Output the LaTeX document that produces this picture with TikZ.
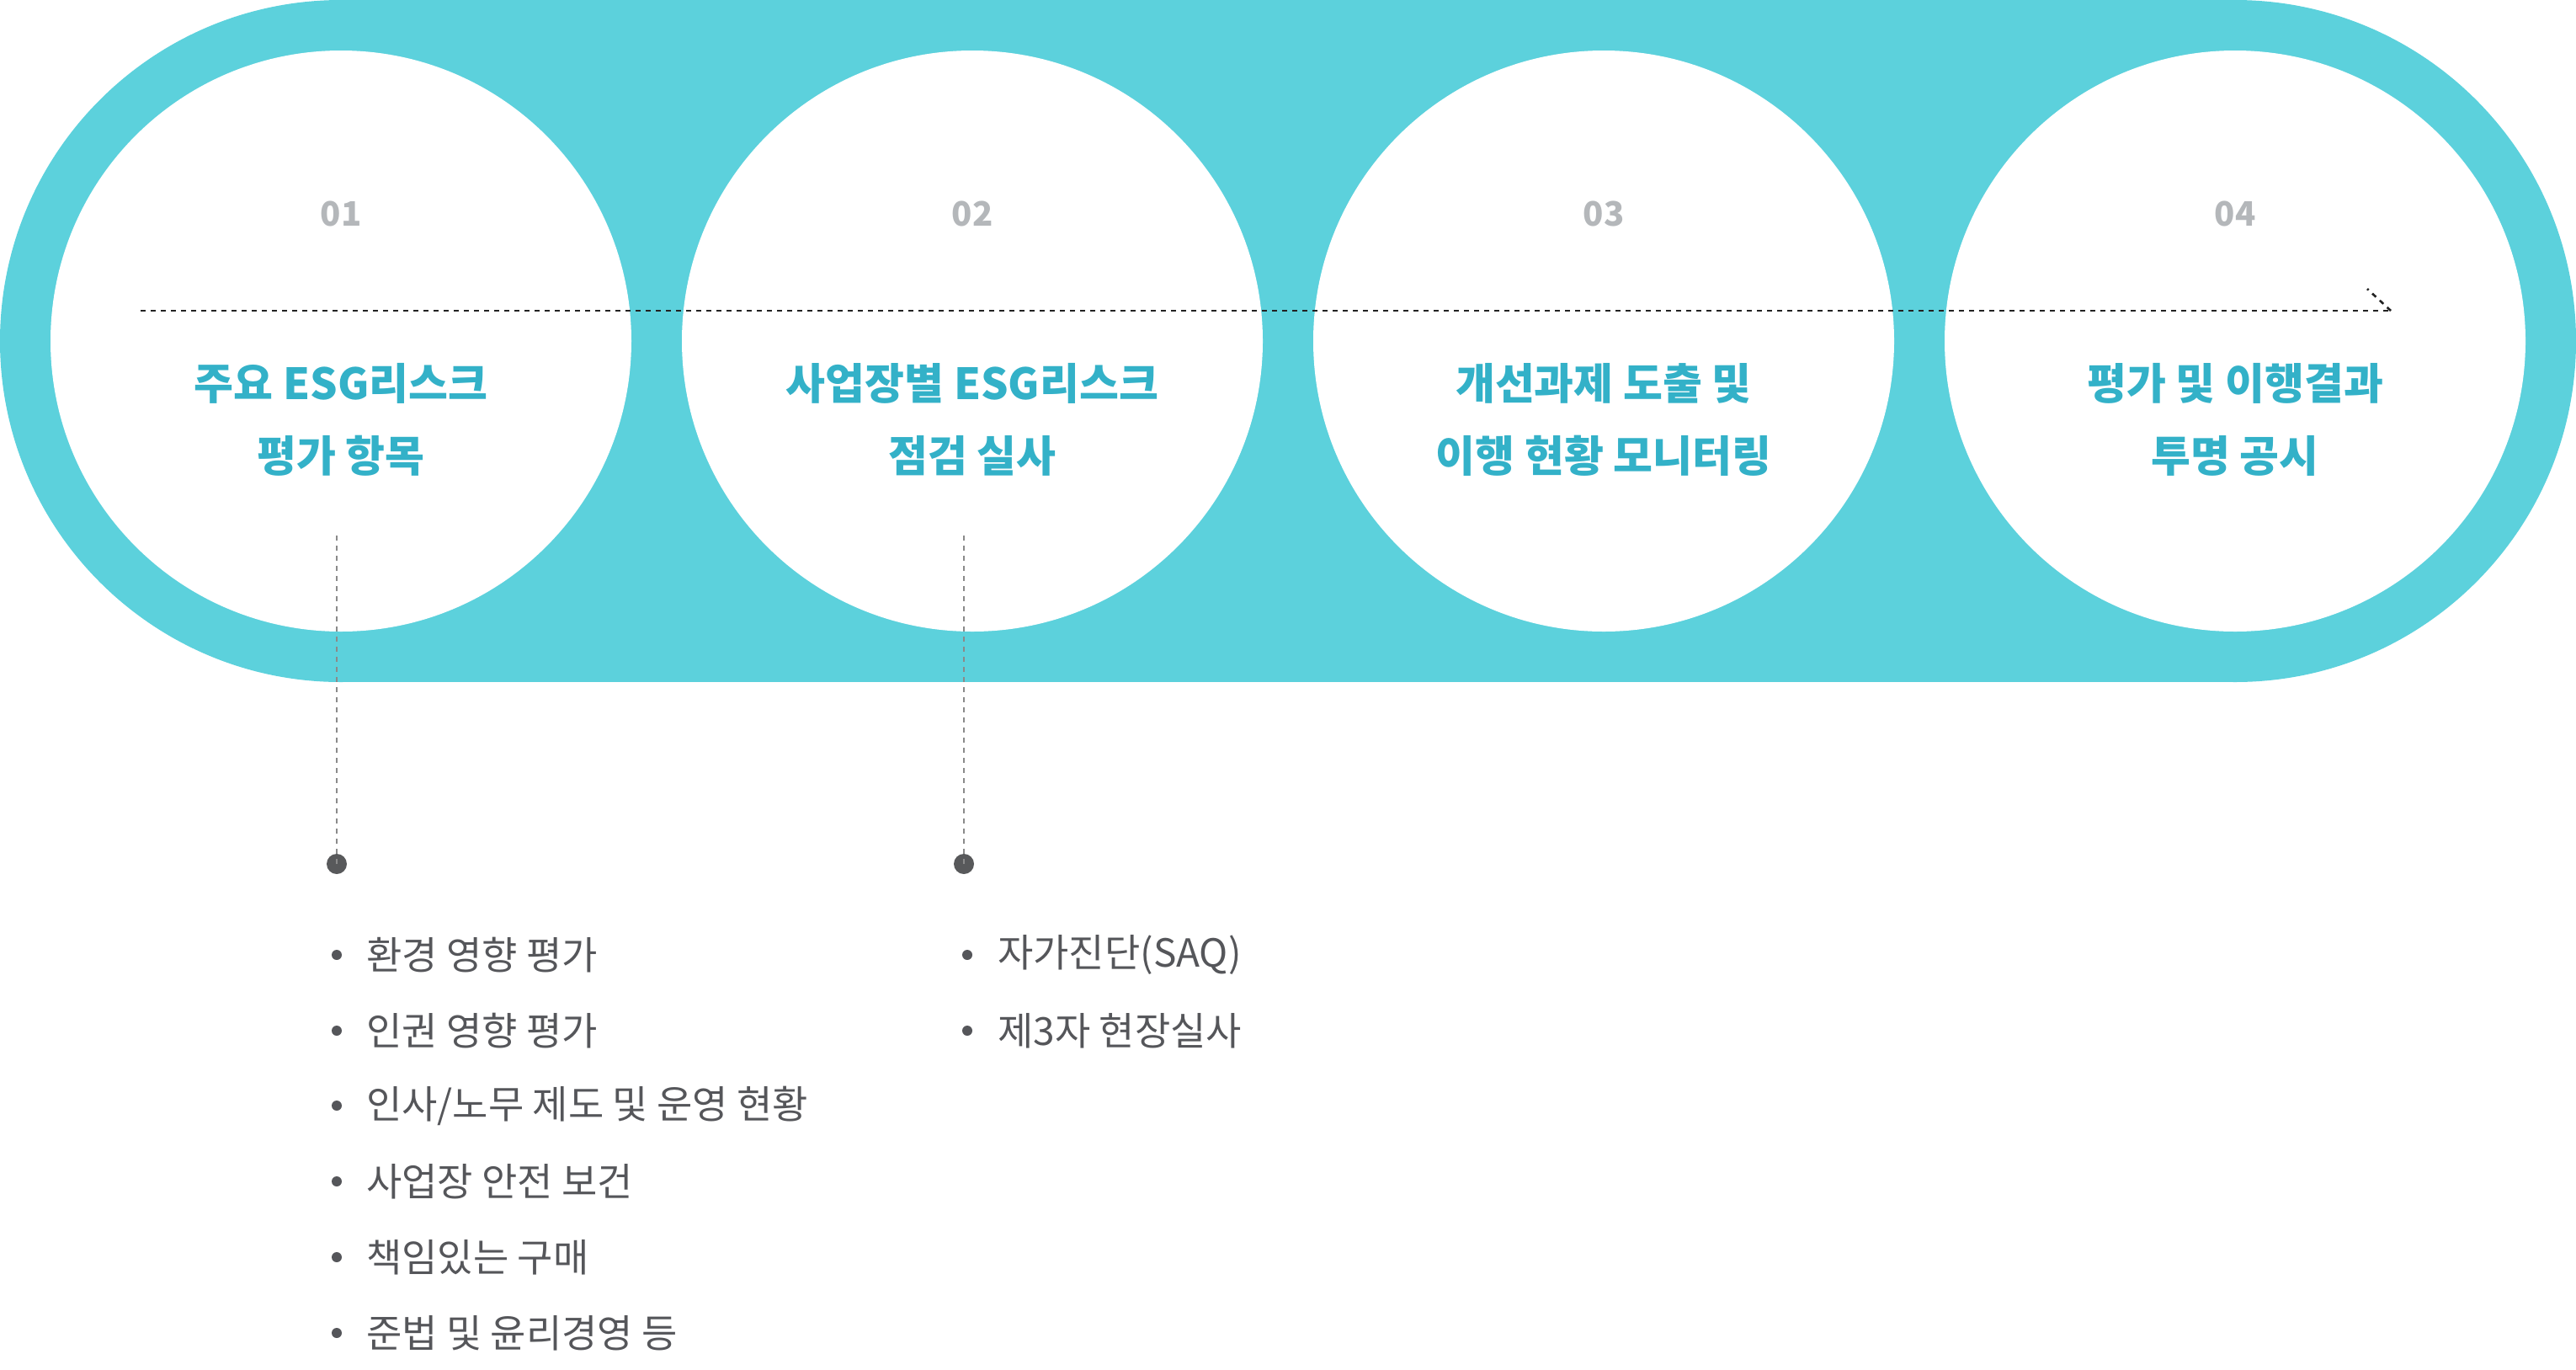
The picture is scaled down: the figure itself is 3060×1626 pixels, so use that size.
\documentclass[tikz,border=0pt]{standalone}
\usepackage{fontspec}
\setmainfont{Noto Sans CJK KR}
\usetikzlibrary{calc}
\definecolor{band}{HTML}{5CD1DC}
\definecolor{titlec}{HTML}{33B1C8}
\definecolor{numc}{HTML}{B4B7BA}
\definecolor{listc}{HTML}{55565A}
\definecolor{dotc}{HTML}{58595B}
\definecolor{vlinec}{HTML}{8A8A8A}
\definecolor{hlinec}{HTML}{222222}
\tikzset{
  stepcircle/.style={fill=white},
  numtext/.style={text=numc, font=\fontsize{40}{46}\selectfont\bfseries, inner sep=0pt},
  titletext/.style={text=titlec, font=\fontsize{51}{86}\selectfont\bfseries, align=center, inner sep=0pt},
  listtext/.style={text=listc, font=\fontsize{46}{54}\selectfont, anchor=west, inner sep=0pt},
  hline/.style={draw=hlinec, line width=2.6pt, dash pattern=on 6pt off 6pt},
  vline/.style={draw=vlinec, line width=2.6pt, dash pattern=on 6pt off 6pt},
  enddot/.style={fill=dotc},
  bulletdot/.style={fill=listc}
}
\begin{document}
\begin{tikzpicture}[x=1pt,y=-1pt]
\useasboundingbox (0,0) rectangle (3060,1626);
% band
\fill[band] (405,405) circle[radius=405pt];
\fill[band] (2655,405) circle[radius=405pt];
\fill[band] (405,0) rectangle (2655,810);
% circles
\foreach \i/\cx in {1/405,2/1155,3/1905,4/2655}{
  \fill[stepcircle] (\cx,405) circle[radius=345pt];
}
% numbers
\node[numtext] (n1) at (405,254) {01};
\node[numtext] (n2) at (1155,254) {02};
\node[numtext] (n3) at (1905,254) {03};
\node[numtext] (n4) at (2655,254) {04};
% titles
\node[titletext] (t1) at (405,498) {주요 ESG리스크\\평가 항목};
\node[titletext] (t2) at (1155,498) {사업장별 ESG리스크\\점검 실사};
\node[titletext] (t3) at (1905,498) {개선과제 도출 및\\이행 현황 모니터링};
\node[titletext] (t4) at (2655,498) {평가 및 이행결과\\투명 공시};
% horizontal dotted arrow
\coordinate (hs) at (167,369);
\coordinate (he) at (2840,369);
\draw[hline] (hs) -- (he);
\draw[hline] (he) -- ++(-28,-26);
% vertical connectors
\coordinate (v1s) at (400,636);
\coordinate (v2s) at (1145,636);
\fill[enddot] (400,1026) circle[radius=12pt] coordinate (d1);
\fill[enddot] (1145,1026) circle[radius=12pt] coordinate (d2);
\draw[vline] (v1s) -- (d1);
\draw[vline] (v2s) -- (d2);
% list 1
\foreach \k/\yy/\txt in {a/1134/{환경 영향 평가}, b/1224/{인권 영향 평가}, c/1313/{인사/노무 제도 및 운영 현황}, d/1403/{사업장 안전 보건}, e/1493/{책임있는 구매}, f/1583/{준법 및 윤리경영 등}}{
  \fill[bulletdot] (400,\yy) circle[radius=6pt];
  \node[listtext] (l1\k) at (435,\yy) {\txt};
}
% list 2
\foreach \k/\yy/\txt in {a/1134/{자가진단(SAQ)}, b/1224/{제3자 현장실사}}{
  \fill[bulletdot] (1149,\yy) circle[radius=6pt];
  \node[listtext] (l2\k) at (1185,\yy) {\txt};
}
\end{tikzpicture}
\end{document}
